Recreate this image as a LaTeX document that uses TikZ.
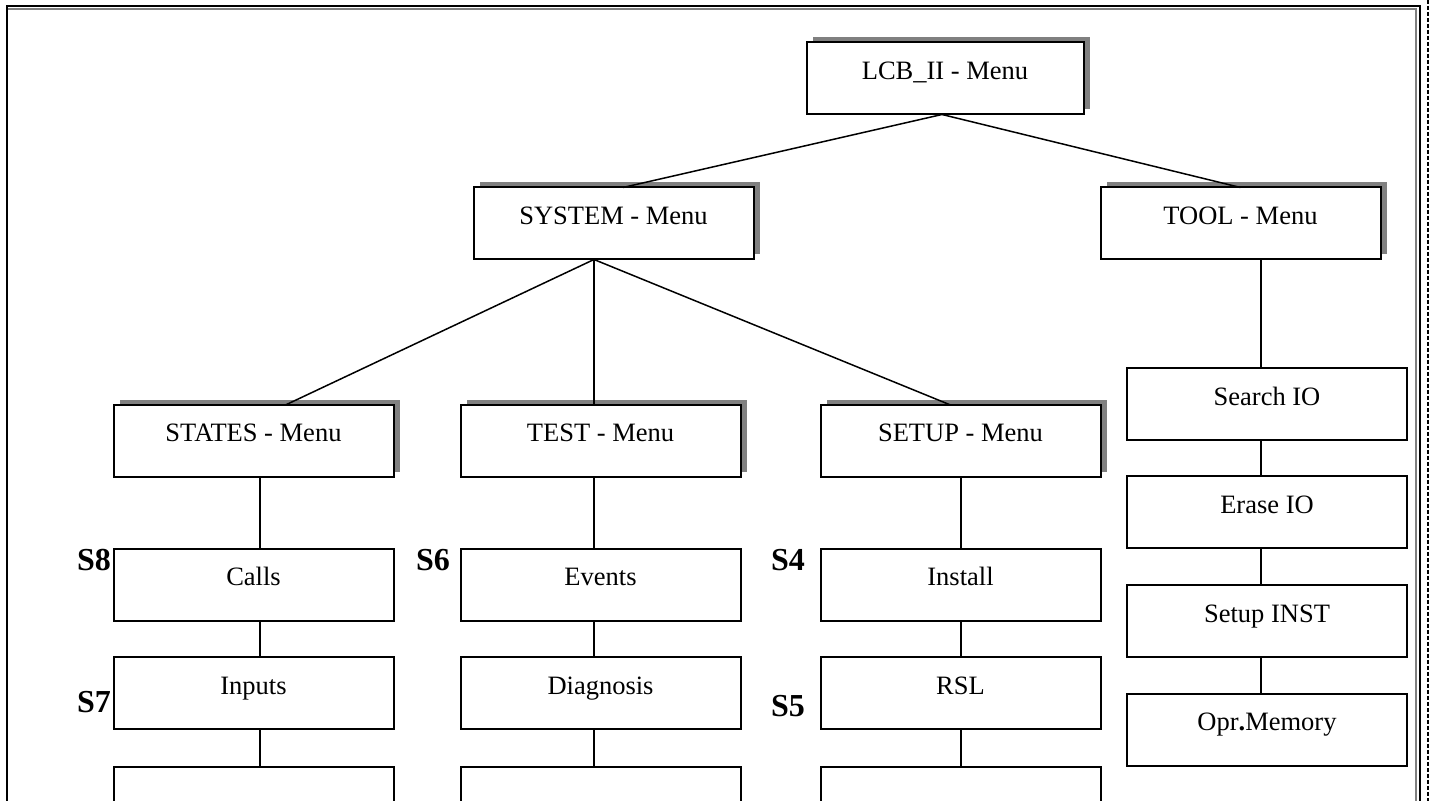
\documentclass[tikz,border=0pt]{standalone}
\usepackage{fontspec}
\setmainfont{Liberation Serif}
\usetikzlibrary{shadows}
\definecolor{shadowgray}{RGB}{128,128,128}
\begin{document}
\begin{tikzpicture}[x=0.5pt,y=-0.5pt,
  box/.style={draw, line width=1pt, fill=white, minimum width=140pt, minimum height=36pt,
    inner sep=0pt, outer sep=0pt, text height=8pt, text depth=7.2pt,
    font=\fontsize{13.25}{15}\selectfont},
  menubox/.style={box, drop shadow={shadow xshift=3pt, shadow yshift=2.5pt, fill=shadowgray, opacity=1}},
  slabel/.style={font=\fontsize{16}{18}\selectfont\bfseries, inner sep=0pt},
  conn/.style={line width=0.75pt}]
\useasboundingbox (0,0) rectangle (1431,801);
\clip (0,0) rectangle (1431,801);
\fill[white] (0,0) rectangle (1431,801);

% outer frame
\draw[line width=1pt] (7,830) -- (7,6.5) -- (1420,6.5) -- (1420,830);
\draw[shadowgray, line width=0.6pt] (8,9) -- (1416,9) -- (1416,830);
\draw[line width=0.6pt, dash pattern=on 2pt off 1pt] (1428,0) -- (1428,801);

% menu boxes
\node[menubox, minimum width=138.5pt] (lcb) at (945,78.5) {LCB\_II - Menu};
\node[menubox] (sys) at (613.5,223.5) {SYSTEM - Menu};
\node[menubox] (tool) at (1240.5,223.5) {TOOL - Menu};
\node[menubox] (states) at (253.5,441) {STATES - Menu};
\node[menubox] (test) at (600.5,441) {TEST - Menu};
\node[menubox] (setup) at (960.5,441) {SETUP - Menu};

% column 1
\node[box] (calls) at (253.5,585) {Calls};
\node[box] (inputs) at (253.5,693.5) {Inputs};
\node[box] (b1) at (253.5,803.5) {};
% column 2
\node[box] (events) at (600.5,585) {Events};
\node[box] (diag) at (600.5,693.5) {Diagnosis};
\node[box] (b2) at (600.5,803.5) {};
% column 3
\node[box] (install) at (960.5,585) {Install};
\node[box] (rsl) at (960.5,693.5) {RSL};
\node[box] (b3) at (960.5,803.5) {};
% tool column
\node[box] (search) at (1267,404.5) {Search IO};
\node[box] (erase) at (1267,512.5) {Erase IO};
\node[box] (setupinst) at (1267,621.5) {Setup INST};
\node[box] (opr) at (1267,730) {Opr\textbf{.}Memory};

% S labels
\node[slabel] (s8) at (94,560) {S8};
\node[slabel] (s7) at (94,702) {S7};
\node[slabel] (s6) at (433,560) {S6};
\node[slabel] (s4) at (788,560) {S4};
\node[slabel] (s5) at (788,706) {S5};

% connectors
\draw[conn] ([xshift=-1.5pt]lcb.south) -- ([xshift=4.75pt]sys.north);
\draw[conn] ([xshift=-1.5pt]lcb.south) -- (tool.north);
\draw[conn] ([xshift=-9.75pt]sys.south) -- ([xshift=16pt]states.north);
\draw[conn] ([xshift=-9.75pt]sys.south) -- ([xshift=-3.25pt]test.north);
\draw[conn] ([xshift=-9.75pt]sys.south) -- ([xshift=-5pt]setup.north);

\draw[conn] ([xshift=3.25pt]states.south) -- ([xshift=3.25pt]calls.north);
\draw[conn] ([xshift=3.25pt]calls.south) -- ([xshift=3.25pt]inputs.north);
\draw[conn] ([xshift=3.25pt]inputs.south) -- ([xshift=3.25pt]b1.north);

\draw[conn] ([xshift=-3.25pt]test.south) -- ([xshift=-3.25pt]events.north);
\draw[conn] ([xshift=-3.25pt]events.south) -- ([xshift=-3.25pt]diag.north);
\draw[conn] ([xshift=-3.25pt]diag.south) -- ([xshift=-3.25pt]b2.north);

\draw[conn] ([xshift=0.25pt]setup.south) -- ([xshift=0.25pt]install.north);
\draw[conn] ([xshift=0.25pt]install.south) -- ([xshift=0.25pt]rsl.north);
\draw[conn] ([xshift=0.25pt]rsl.south) -- ([xshift=0.25pt]b3.north);

\draw[conn] ([xshift=10.25pt]tool.south) -- ([xshift=-3pt]search.north);
\draw[conn] ([xshift=-3pt]search.south) -- ([xshift=-3pt]erase.north);
\draw[conn] ([xshift=-3pt]erase.south) -- ([xshift=-3pt]setupinst.north);
\draw[conn] ([xshift=-3pt]setupinst.south) -- ([xshift=-3pt]opr.north);
\end{tikzpicture}
\end{document}
